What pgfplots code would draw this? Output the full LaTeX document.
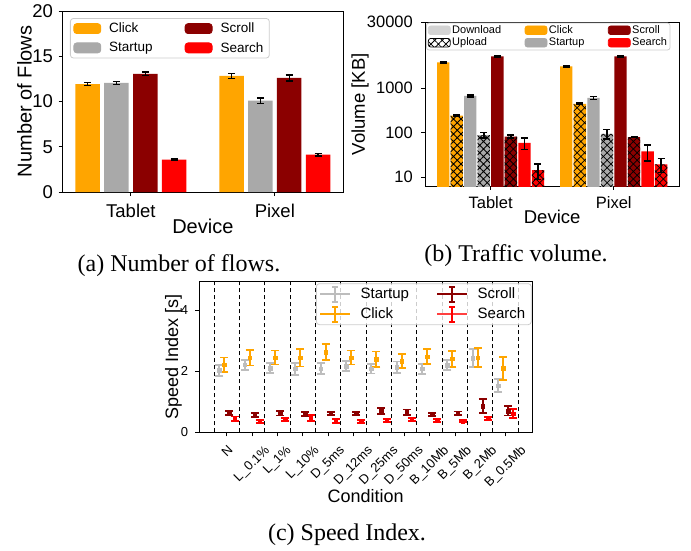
\documentclass[border=0pt]{standalone}
\usepackage{fontspec}
\setmainfont{Liberation Sans}
\newfontfamily\capfont{Liberation Serif}
\usepackage{graphicx}
\usepackage{pgfplots}
\pgfplotsset{compat=1.18}
\usetikzlibrary{patterns.meta}
\definecolor{cClick}{HTML}{FFA500}
\definecolor{cStartup}{HTML}{A9A9A9}
\definecolor{cScroll}{HTML}{8B0000}
\definecolor{cSearch}{HTML}{FF0000}
\definecolor{cDown}{HTML}{D3D3D3}
\definecolor{cLeg}{HTML}{CCCCCC}
\definecolor{cStartupL}{HTML}{BDBDBD}
\newcommand{\rl}[1]{\rotatebox{45}{#1}}
\pgfplotsset{
  myaxis/.style={
    scale only axis,
    axis line style={line width=0.9pt},
    tick align=outside, tick pos=left,
    major tick length=4pt,
    every tick/.style={black, line width=0.9pt},
    /pgf/number format/assume math mode=true,
  },
  eb/.style={error bars/.cd, y dir=both, y explicit,
    error bar style={line width=1.4pt, draw=black},
    error mark=|,
    error mark options={mark size=3.5pt, line width=1.4pt, draw=black}},
  ceb/.style={error bars/.cd, y dir=both, y explicit,
    error bar style={line width=2pt, draw=#1},
    error mark=|,
    error mark options={mark size=4pt, line width=1.8pt, draw=#1}},
  hatch/.style={postaction={pattern={Hatch[angle=45,distance=5.3pt,line width=0.8pt]}, pattern color=black}},
}
\begin{document}
\begin{tikzpicture}
\useasboundingbox (0,0) rectangle (691pt,550pt);

% ---------------- (a) ----------------
\begin{axis}[myaxis,
  at={(62.7pt,358pt)}, anchor=south west,
  width=280.3pt, height=181pt,
  xmin=-0.4735, xmax=1.4735, ymin=0, ymax=20,
  xtick={0,1}, xticklabels={Tablet,Pixel},
  ytick={0,5,10,15,20},
  tick label style={font=\fontsize{18.5}{22}\selectfont},
  xticklabel style={anchor=base, yshift=-21.3pt},
  yticklabel style={anchor=east, inner sep=0pt, xshift=-5.5pt},
  label style={font=\fontsize{20}{24}\selectfont},
  xlabel={Device}, ylabel={Number of Flows},
  xlabel style={at={(axis description cs:0.5,-0.232)}, anchor=base},
  ylabel style={at={(axis description cs:-0.1106,0.5)}, anchor=base},
  legend style={at={(axis description cs:0.026,0.961)}, anchor=north west,
    draw=cLeg, line width=0.8pt, rounded corners=3pt, fill=white,
    font=\fontsize{13.5}{16}\selectfont, inner xsep=3pt, inner ysep=2.5pt, row sep=4pt,
    nodes={inner xsep=3pt, inner ysep=2pt},
    /tikz/every odd column/.append style={column sep=5pt},
    /tikz/every even column/.append style={column sep=29pt}},
  legend columns=2, legend cell align=left,
]
\addplot[forget plot, ybar, bar width=0.17, bar shift=0, fill=cClick, draw=none, eb]
  coordinates {(-0.3,11.92) +- (0,0.15) (0.7,12.82) +- (0,0.25)};
\addplot[forget plot, ybar, bar width=0.17, bar shift=0, fill=cStartup, draw=none, eb]
  coordinates {(-0.1,12.06) +- (0,0.15) (0.9,10.1) +- (0,0.3)};
\addplot[forget plot, ybar, bar width=0.17, bar shift=0, fill=cScroll, draw=none, eb]
  coordinates {(0.1,13.05) +- (0,0.2) (1.1,12.6) +- (0,0.35)};
\addplot[forget plot, ybar, bar width=0.17, bar shift=0, fill=cSearch, draw=none, eb]
  coordinates {(0.3,3.58) +- (0,0.08) (1.3,4.12) +- (0,0.15)};
\addlegendimage{legend image code/.code={\fill[cClick] (0pt,-5pt) rectangle (27pt,5pt);}}
\addlegendentry{Click}
\addlegendimage{legend image code/.code={\fill[cScroll] (0pt,-5pt) rectangle (27pt,5pt);}}
\addlegendentry{Scroll}
\addlegendimage{legend image code/.code={\fill[cStartup] (0pt,-5pt) rectangle (27pt,5pt);}}
\addlegendentry{Startup}
\addlegendimage{legend image code/.code={\fill[cSearch] (0pt,-5pt) rectangle (27pt,5pt);}}
\addlegendentry{Search}
\end{axis}

% ---------------- (b) ----------------
\begin{axis}[myaxis,
  at={(425pt,364pt)}, anchor=south west,
  width=254.3pt, height=163.7pt,
  ymode=log, log basis y=10,
  xmin=-0.5325, xmax=1.5325, ymin=6.3, ymax=30000,
  xtick={0,1}, xticklabels={Tablet,Pixel},
  ytick={10,100,1000,30000}, yticklabels={10,100,1000,30000},
  minor ytick={},
  tick label style={font=\fontsize{16.5}{20}\selectfont},
  xticklabel style={anchor=base, yshift=-19pt},
  yticklabel style={anchor=east, inner sep=0pt, xshift=-8pt},
  label style={font=\fontsize{18.5}{22}\selectfont},
  xlabel={Device}, ylabel={Volume [KB]},
  xlabel style={at={(axis description cs:0.5,-0.232)}, anchor=base},
  ylabel style={at={(axis description cs:-0.236,0.5)}, anchor=base},
  legend style={at={(axis description cs:0.004,0.998)}, anchor=north west,
    draw=cLeg, line width=0.8pt, rounded corners=2.5pt, fill=white,
    font=\fontsize{11}{13}\selectfont, inner xsep=1.5pt, inner ysep=1pt, row sep=0pt,
    nodes={inner xsep=1.5pt, inner ysep=1.5pt},
    /tikz/every odd column/.append style={column sep=0pt},
    /tikz/every even column/.append style={column sep=22pt}},
  legend columns=3, legend cell align=left,
]
\addplot[forget plot, ybar, bar width=0.1, bar shift=0, fill=cClick, draw=none, eb]
  coordinates {(-0.385,3780) +- (0,150) (0.615,3080) +- (0,110)};
\addplot[forget plot, ybar, bar width=0.1, bar shift=0, fill=cClick, draw=none, hatch, eb]
  coordinates {(-0.275,239) +- (0,10) (0.725,441) +- (0,20)};
\addplot[forget plot, ybar, bar width=0.1, bar shift=0, fill=cStartup, draw=none, eb]
  coordinates {(-0.165,664) +- (0,35) (0.835,600) +- (0,45)};
\addplot[forget plot, ybar, bar width=0.1, bar shift=0, fill=cStartup, draw=none, hatch, eb]
  coordinates {(-0.055,87) +- (0,12) (0.945,93.5) +- (0,22)};
\addplot[forget plot, ybar, bar width=0.1, bar shift=0, fill=cScroll, draw=none, eb]
  coordinates {(0.055,5140) +- (0,150) (1.055,5140) +- (0,150)};
\addplot[forget plot, ybar, bar width=0.1, bar shift=0, fill=cScroll, draw=none, hatch, eb]
  coordinates {(0.165,81.5) +- (0,6) (1.165,78.7) +- (0,2)};
\addplot[forget plot, ybar, bar width=0.1, bar shift=0, fill=cSearch, draw=none, eb]
  coordinates {(0.275,59) +- (0,17) (1.275,37.8) +- (0,15)};
\addplot[forget plot, ybar, bar width=0.1, bar shift=0, fill=cSearch, draw=none, hatch, eb]
  coordinates {(0.385,14.3) +- (0,5.5) (1.385,19.4) +- (0,6.6)};
\addlegendimage{legend image code/.code={\fill[cDown] (0pt,-4.3pt) rectangle (22pt,4.3pt);}}
\addlegendentry{Download}
\addlegendimage{legend image code/.code={\fill[cClick] (0pt,-4.3pt) rectangle (22pt,4.3pt);}}
\addlegendentry{Click}
\addlegendimage{legend image code/.code={\fill[cScroll] (0pt,-4.3pt) rectangle (22pt,4.3pt);}}
\addlegendentry{Scroll}
\addlegendimage{legend image code/.code={\fill[white] (0pt,-4.3pt) rectangle (22pt,4.3pt);
  \path[pattern={Hatch[angle=45,distance=5.3pt,line width=0.8pt]}, pattern color=black] (0pt,-4.3pt) rectangle (22pt,4.3pt);}}
\addlegendentry{Upload}
\addlegendimage{legend image code/.code={\fill[cStartup] (0pt,-4.3pt) rectangle (22pt,4.3pt);}}
\addlegendentry{Startup}
\addlegendimage{legend image code/.code={\fill[cSearch] (0pt,-4.3pt) rectangle (22pt,4.3pt);}}
\addlegendentry{Search}
\end{axis}

% ---------------- (c) ----------------
\begin{axis}[myaxis,
  at={(199.3pt,117.7pt)}, anchor=south west,
  width=332.7pt, height=151.3pt,
  xmin=-1.09, xmax=12.04, ymin=0, ymax=4.96,
  xtick={0,1,2,3,4,5,6,7,8,9,10,11},
  xticklabels={\rl{N},\rl{L\_0.1\%},\rl{L\_1\%},\rl{L\_10\%},\rl{D\_5ms},\rl{D\_12ms},\rl{D\_25ms},\rl{D\_50ms},\rl{B\_10Mb},\rl{B\_5Mb},\rl{B\_2Mb},\rl{B\_0.5Mb}},
  ytick={0,2,4},
  extra x ticks={-0.5,0.5,1.5,2.5,3.5,4.5,5.5,6.5,7.5,8.5,9.5,10.5,11.5},
  extra x tick labels={},
  extra x tick style={major tick length=0pt, grid=major, major grid style={black, line width=1pt, dash pattern=on 4.5pt off 2.5pt}},
  tick label style={font=\fontsize{13}{15.6}\selectfont},
  xticklabel style={anchor=north, inner sep=0pt, yshift=-8pt},
  yticklabel style={anchor=east, inner sep=0pt, xshift=-7pt},
  label style={font=\fontsize{18}{21.6}\selectfont},
  xlabel={Condition}, ylabel={Speed Index [s]},
  xlabel style={at={(axis description cs:0.5,-0.467)}, anchor=base},
  ylabel style={at={(axis description cs:-0.064,0.5)}, anchor=base},
  legend style={at={(axis description cs:0.999,0.985)}, anchor=north east,
    draw=cLeg, line width=0.8pt, rounded corners=3pt, fill=white, fill opacity=0.8, text opacity=1,
    font=\fontsize{15}{18}\selectfont, inner xsep=3pt, inner ysep=2pt, row sep=3pt,
    nodes={inner xsep=3pt, inner ysep=2pt},
    /tikz/every odd column/.append style={column sep=6.7pt},
    /tikz/every even column/.append style={column sep=24.6pt}},
  legend columns=2, legend cell align=left,
]
\addplot[forget plot, only marks, mark=square*, mark size=1.8pt, color=cStartupL, ceb=cStartupL]
  coordinates {(-0.3,2.03) +- (0,0.18) (0.7,2.21) +- (0,0.16) (1.7,2.11) +- (0,0.17) (2.7,2.08) +- (0,0.19)
  (3.7,2.09) +- (0,0.17) (4.7,2.17) +- (0,0.17) (5.7,2.08) +- (0,0.15) (6.7,2.13) +- (0,0.19)
  (7.7,2.08) +- (0,0.16) (8.7,2.2) +- (0,0.17) (9.7,2.43) +- (0,0.3) (10.7,1.53) +- (0,0.22)};
\addplot[forget plot, only marks, mark=square*, mark size=1.8pt, color=cClick, ceb=cClick]
  coordinates {(-0.1,2.22) +- (0,0.23) (0.9,2.45) +- (0,0.26) (1.9,2.45) +- (0,0.23) (2.9,2.44) +- (0,0.28)
  (3.9,2.63) +- (0,0.26) (4.9,2.45) +- (0,0.23) (5.9,2.4) +- (0,0.25) (6.9,2.34) +- (0,0.24)
  (7.9,2.48) +- (0,0.25) (8.9,2.41) +- (0,0.26) (9.9,2.45) +- (0,0.31) (10.9,2.1) +- (0,0.38)};
\addplot[forget plot, only marks, mark=square*, mark size=1.8pt, color=cScroll, ceb=cScroll]
  coordinates {(0.1,0.63) +- (0,0.07) (1.1,0.56) +- (0,0.066) (2.1,0.62) +- (0,0.07) (3.1,0.6) +- (0,0.06)
  (4.1,0.62) +- (0,0.055) (5.1,0.62) +- (0,0.045) (6.1,0.7) +- (0,0.09) (7.1,0.66) +- (0,0.09)
  (8.1,0.59) +- (0,0.055) (9.1,0.62) +- (0,0.06) (10.1,0.86) +- (0,0.22) (11.1,0.7) +- (0,0.15)};
\addplot[forget plot, only marks, mark=square*, mark size=1.8pt, color=cSearch, ceb=cSearch]
  coordinates {(0.3,0.44) +- (0,0.075) (1.3,0.35) +- (0,0.055) (2.3,0.42) +- (0,0.055) (3.3,0.47) +- (0,0.087)
  (4.3,0.37) +- (0,0.055) (5.3,0.35) +- (0,0.045) (6.3,0.38) +- (0,0.055) (7.3,0.42) +- (0,0.045)
  (8.3,0.39) +- (0,0.055) (9.3,0.37) +- (0,0.045) (10.3,0.45) +- (0,0.04) (11.3,0.61) +- (0,0.15)};
\addlegendimage{legend image code/.code={
  \draw[cStartupL, line width=1.5pt] (0pt,0pt) -- (30pt,0pt);
  \draw[cStartupL, line width=2pt] (15pt,-7.5pt) -- (15pt,7.5pt) (12pt,-7.5pt) -- (18pt,-7.5pt) (12pt,7.5pt) -- (18pt,7.5pt);}}
\addlegendentry{Startup}
\addlegendimage{legend image code/.code={
  \draw[cScroll, line width=1.5pt] (0pt,0pt) -- (30pt,0pt);
  \draw[cScroll, line width=2pt] (15pt,-7.5pt) -- (15pt,7.5pt) (12pt,-7.5pt) -- (18pt,-7.5pt) (12pt,7.5pt) -- (18pt,7.5pt);}}
\addlegendentry{Scroll}
\addlegendimage{legend image code/.code={
  \draw[cClick, line width=1.5pt] (0pt,0pt) -- (30pt,0pt);
  \draw[cClick, line width=2pt] (15pt,-7.5pt) -- (15pt,7.5pt) (12pt,-7.5pt) -- (18pt,-7.5pt) (12pt,7.5pt) -- (18pt,7.5pt);}}
\addlegendentry{Click}
\addlegendimage{legend image code/.code={
  \draw[cSearch!75, line width=1.5pt] (0pt,0pt) -- (30pt,0pt);
  \draw[cSearch, line width=2pt] (15pt,-7.5pt) -- (15pt,7.5pt) (12pt,-7.5pt) -- (18pt,-7.5pt) (12pt,7.5pt) -- (18pt,7.5pt);}}
\addlegendentry{Search}
\end{axis}

% captions
\node[anchor=base, font=\capfont\fontsize{24}{28}\selectfont] at (179pt,278.3pt) {(a) Number of flows.};
\node[anchor=base, font=\capfont\fontsize{24}{28}\selectfont] at (516pt,288.3pt) {(b) Traffic volume.};
\node[anchor=base, font=\capfont\fontsize{24}{28}\selectfont] at (347pt,9.3pt) {(c) Speed Index.};
\end{tikzpicture}
\end{document}
